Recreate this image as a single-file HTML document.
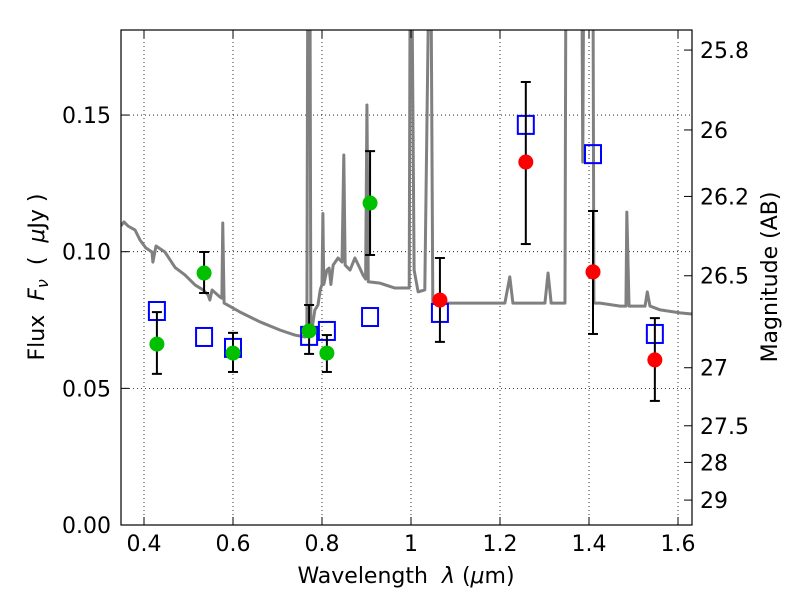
<!DOCTYPE html>
<html><head><meta charset="utf-8"><style>
body{margin:0;background:#fff;}
svg text{font-family:"DejaVu Sans","Liberation Sans",sans-serif;font-size:22px;fill:#000;white-space:pre;}
</style></head><body>
<svg id="chart" width="800" height="600" xmlns="http://www.w3.org/2000/svg">
<defs><clipPath id="clip"><rect x="121" y="30" width="571" height="495"/></clipPath></defs>
<rect x="0" y="0" width="800" height="600" fill="#fff"/>
<g id="grid"></g>
<g id="spec" clip-path="url(#clip)"></g>
<g id="marks"></g>
<rect x="121" y="30" width="571" height="495" fill="none" stroke="#000" stroke-width="1.2"/>
<g id="axes"></g>
<text x="406" y="583" text-anchor="middle">Wavelength&#160;&#160;<tspan font-style="italic">λ</tspan> (<tspan font-style="italic">μ</tspan>m)</text>
<text transform="translate(44,277) rotate(-90)" text-anchor="middle">Flux&#160;&#160;<tspan font-style="italic">F</tspan><tspan font-style="italic" font-size="16" dy="4">ν</tspan><tspan dy="-4">&#160;&#160;(&#160;&#160;</tspan><tspan font-style="italic">μ</tspan>Jy )</text>
<text transform="translate(777,277) rotate(-90)" text-anchor="middle">Magnitude (AB)</text>
</svg>
<script>
const xTicks=[0.4,0.6,0.8,1,1.2,1.4,1.6];
const xTickLabels=["0.4","0.6","0.8","1","1.2","1.4","1.6"];
const yTicks=[0,0.05,0.10,0.15];
const yTickLabels=["0.00","0.05","0.10","0.15"];
const magTicks=[25.8,26,26.2,26.5,27,27.5,28,29];
const magTickLabels=["25.8","26","26.2","26.5","27","27.5","28","29"];
const greenLam=[0.429,0.535,0.600,0.771,0.811,0.908];
const greenFlux=[0.0662,0.0922,0.0629,0.0710,0.0629,0.1178];
const greenHi=[0.0779,0.0999,0.0703,0.0805,0.0695,0.1368];
const greenLo=[0.0553,0.0849,0.0560,0.0626,0.0560,0.0988];
const redLam=[1.065,1.258,1.409,1.548];
const redFlux=[0.0823,0.1328,0.0926,0.0604];
const redHi=[0.0977,0.1621,0.1149,0.0757];
const redLo=[0.0670,0.1028,0.0699,0.0454];
const modelLam=[0.429,0.535,0.600,0.771,0.811,0.908,1.065,1.258,1.409,1.548];
const modelFlux=[0.0783,0.0688,0.0648,0.0692,0.0710,0.0761,0.0776,0.1464,0.1357,0.0699];
const specLam=[0.348,0.355,0.364,0.380,0.391,0.404,0.418,0.420,0.427,0.447,0.470,0.492,0.515,0.533,0.544,0.548,0.553,0.571,0.575,0.577,0.580,0.616,0.661,0.706,0.739,0.762,0.766,0.768,0.773,0.775,0.784,0.791,0.796,0.800,0.802,0.804,0.811,0.816,0.820,0.825,0.836,0.845,0.849,0.852,0.863,0.874,0.885,0.892,0.898,0.901,0.904,0.930,0.964,0.996,0.998,1.002,1.007,1.016,1.031,1.040,1.045,1.049,1.065,1.110,1.211,1.222,1.229,1.301,1.308,1.315,1.346,1.348,1.384,1.386,1.388,1.409,1.411,1.425,1.470,1.483,1.485,1.490,1.499,1.526,1.531,1.537,1.560,1.605,1.631];
const specFlux=[0.1094,0.1109,0.1094,0.1079,0.1043,0.1014,0.0999,0.0962,0.1021,0.0999,0.0942,0.0915,0.0878,0.0860,0.0842,0.0823,0.0860,0.0834,0.0830,0.1105,0.0812,0.0779,0.0743,0.0713,0.0695,0.0688,0.0700,0.2,0.2,0.0690,0.0787,0.0805,0.0860,0.0880,0.1140,0.0880,0.0933,0.0940,0.0880,0.0951,0.0977,0.0962,0.1354,0.0951,0.0933,0.0977,0.0940,0.0915,0.0900,0.1537,0.0890,0.0885,0.0867,0.0867,0.2,0.2,0.0933,0.0853,0.0860,0.2,0.2,0.0816,0.0812,0.0812,0.0812,0.0908,0.0812,0.0812,0.0922,0.0812,0.0812,0.2,0.2,0.1328,0.2,0.2,0.0812,0.0812,0.0801,0.0801,0.1145,0.0801,0.0801,0.0801,0.0853,0.0801,0.0787,0.0776,0.0772];

const NS="http://www.w3.org/2000/svg";
const X=l=>144+(l-0.4)*445;
const Y=f=>525-f*2733;
const mk=(t,a,p)=>{const e=document.createElementNS(NS,t);for(const k in a)e.setAttribute(k,a[k]);p.appendChild(e);return e;};
const grid=document.getElementById('grid'),axes=document.getElementById('axes'),spec=document.getElementById('spec'),marks=document.getElementById('marks');
xTicks.forEach((v,i)=>{const x=X(v);
 const g=mk('line',{x1:x,x2:x,y1:30,y2:525,stroke:'#000','stroke-width':0.8,'stroke-dasharray':'1,3'},grid);
 
 
 mk('line',{x1:x,x2:x,y1:525,y2:517,stroke:'#000'},axes);
 mk('line',{x1:x,x2:x,y1:30,y2:38,stroke:'#000'},axes);
 const t=mk('text',{x:x,y:551,'text-anchor':'middle'},axes);t.textContent=xTickLabels[i];
 
 
});
yTicks.forEach((v,i)=>{const y=Y(v);
 const g=mk('line',{x1:121,x2:692,y1:y,y2:y,stroke:'#000','stroke-width':0.8,'stroke-dasharray':'1,3'},grid);
 
 
 mk('line',{x1:121,x2:129,y1:y,y2:y,stroke:'#000'},axes);
 const t=mk('text',{x:111,y:y+8,'text-anchor':'end'},axes);t.textContent=yTickLabels[i];
 
 
});
magTicks.forEach((m,i)=>{const y=Y(Math.pow(10,(23.9-m)/2.5));
 mk('line',{x1:684,x2:692,y1:y,y2:y,stroke:'#000'},axes);
 const t=mk('text',{x:700,y:y+8},axes);t.textContent=magTickLabels[i];
 
 
});
const sp=mk('polyline',{points:specLam.map((l,i)=>X(l)+','+Y(specFlux[i])).join(' '),fill:'none',stroke:'#808080','stroke-width':3,'stroke-linejoin':'round'},spec);


modelLam.forEach((l,i)=>{
 const r=mk('rect',{x:X(l)-8,y:Y(modelFlux[i])-9,width:16,height:18,fill:'none',stroke:'#0000ff','stroke-width':2},marks);
 
 
});
function pts(lam,fl,hi,lo,col,nm){lam.forEach((l,i)=>{const x=X(l);
 const e=mk('g',{},marks);
 
 
 mk('line',{x1:x,x2:x,y1:Y(hi[i]),y2:Y(lo[i]),stroke:'#000','stroke-width':2},e);
 mk('line',{x1:x-5,x2:x+5,y1:Y(hi[i]),y2:Y(hi[i]),stroke:'#000','stroke-width':2},e);
 mk('line',{x1:x-5,x2:x+5,y1:Y(lo[i]),y2:Y(lo[i]),stroke:'#000','stroke-width':2},e);
 const c=mk('circle',{cx:x,cy:Y(fl[i]),r:7.5,fill:col},marks);
 
 
});}
pts(greenLam,greenFlux,greenHi,greenLo,'#00c000','green-photometry');
pts(redLam,redFlux,redHi,redLo,'#ff0000','red-photometry');
</script>
</body></html>
